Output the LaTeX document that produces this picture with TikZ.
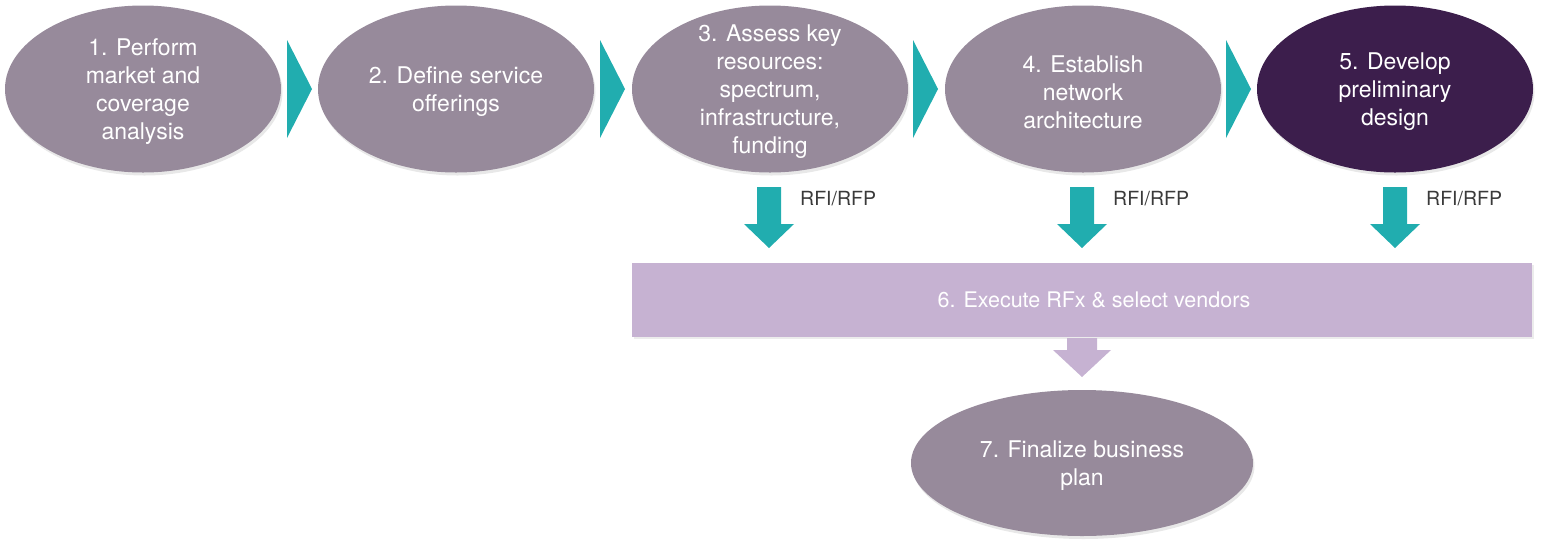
\documentclass[tikz,border=0pt]{standalone}
\usepackage{fontspec}
\setmainfont{TeX Gyre Heros}
\usetikzlibrary{shapes.geometric,shadows,calc}

\definecolor{stepfill}{HTML}{978A9B}
\definecolor{stepdark}{HTML}{3C1E4C}
\definecolor{flowteal}{HTML}{21ADAF}
\definecolor{rfxfill}{HTML}{C6B2D2}
\definecolor{labelgray}{HTML}{3A3A3A}

\tikzset{
  stepbox/.style={ellipse, fill=stepfill, inner sep=0pt,
    minimum width=276pt, minimum height=167pt,
    drop shadow={opacity=0.18, shadow xshift=1.5pt, shadow yshift=-3pt}},
  steptext/.style={text=white, align=center, inner sep=0pt, yshift=-3pt,
    font=\fontsize{23}{28}\selectfont},
  rfxbox/.style={rectangle, fill=rfxfill, inner sep=0pt,
    minimum width=900pt, minimum height=74pt,
    drop shadow={opacity=0.15, shadow xshift=1.5pt, shadow yshift=-2pt}},
  rfxtext/.style={text=white, inner sep=0pt,
    font=\fontsize{21.5}{28}\selectfont},
  rfilabel/.style={text=labelgray, anchor=west, inner sep=0pt,
    font=\fontsize{19.5}{22}\selectfont},
  chevron/.style={fill=flowteal},
  downteal/.style={fill=flowteal},
  downlight/.style={fill=rfxfill},
}

% right-pointing chevron between two steps: #1 left edge x, #2 apex x
\newcommand\chevronshape[2]{%
  \fill[chevron] (#1,40) -- (#2,89) -- (#1,138) -- cycle;}
% block arrow pointing down: centre x, top y, shaft/head join y, tip y,
% shaft half width, head half width, style
\newcommand\blockdown[7]{%
  \fill[#7] (#1-#5,#2) -- (#1+#5,#2) -- (#1+#5,#3) -- (#1+#6,#3)
    -- (#1,#4) -- (#1-#6,#3) -- (#1-#5,#3) -- cycle;}

\begin{document}
\begin{tikzpicture}[x=1pt,y=-1pt]
  \useasboundingbox (0,0) rectangle (1543,550);

  % main sequence of steps
  \node[stepbox] (s1) at (143,89) {};
  \node[steptext] (t1) at (s1.center) {1. Perform\\market and\\coverage\\analysis};
  \node[stepbox] (s2) at (456,89) {};
  \node[steptext] (t2) at (s2.center) {2. Define service\\offerings};
  \node[stepbox] (s3) at (770,89) {};
  \node[steptext] (t3) at (s3.center) {3. Assess key\\resources:\\spectrum,\\infrastructure,\\funding};
  \node[stepbox] (s4) at (1083,89) {};
  \node[steptext] (t4) at (s4.center) {4. Establish\\network\\architecture};
  \node[stepbox, fill=stepdark] (s5) at (1395,89) {};
  \node[steptext] (t5) at (s5.center) {5. Develop\\preliminary\\design};

  % chevrons linking the steps
  \chevronshape{287}{312}
  \chevronshape{600}{625}
  \chevronshape{913}{938}
  \chevronshape{1226}{1251}

  % RFI/RFP hand-offs
  \foreach \cx in {769,1082,1395} {
    \blockdown{\cx}{187}{224}{248}{12}{25}{downteal}
    \node[rfilabel] at (\cx+31,199) {RFI/RFP};
  }

  % vendor selection band
  \node[rfxbox] (s6) at (1082,300) {};
  \node[rfxtext] (t6) at (1094,300) {6. Execute RFx \& select vendors};

  % arrow down to the business plan
  \blockdown{1082}{338}{350}{377}{15}{29}{downlight}

  \node[stepbox, minimum width=342pt, minimum height=146pt] (s7) at (1082,463) {};
  \node[steptext] (t7) at (s7.center) {7. Finalize business\\plan};
\end{tikzpicture}
\end{document}
